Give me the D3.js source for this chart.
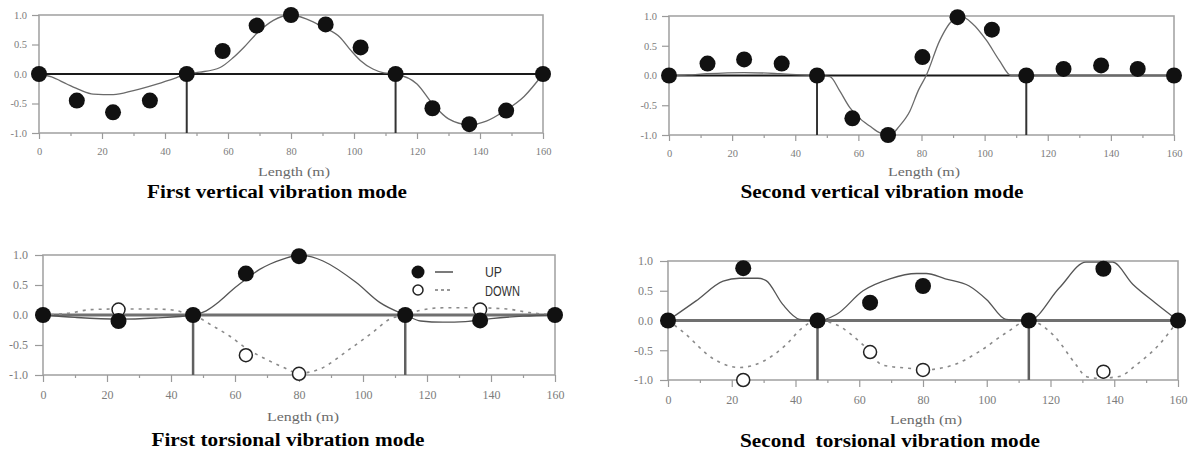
<!DOCTYPE html>
<html>
<head>
<meta charset="utf-8">
<script src="https://cdn.jsdelivr.net/npm/d3@7"></script>
<style>
  body { margin: 0; background: #fff; }
  svg { display: block; }
</style>
</head>
<body>
<svg id="chart" width="1195" height="453"></svg>
<script>
// ---------------- data ----------------
const xTicks = [0, 20, 40, 60, 80, 100, 120, 140, 160]
const xMinorTicks = [10, 30, 50, 70, 90, 110, 130, 150]
const yTicks = [-1, -0.5, 0, 0.5, 1]
const yTickLabels = ['-1.0', '-0.5', '0.0', '0.5', '1.0']
const pierX = [46.9, 113.2]

// first vertical mode
const v1PointX = [0, 12, 23.5, 35.2, 46.9, 58.3, 69.1, 80, 91, 102.1, 113.2, 124.9, 136.6, 148.3, 160]
const v1PointY = [0, -0.45, -0.65, -0.45, 0, 0.39, 0.82, 1.0, 0.84, 0.45, 0, -0.58, -0.85, -0.62, 0]
const v1CurveX = [0, 4, 8.8, 13, 17.2, 23.6, 30, 37.4, 43.7, 46.9, 51, 57.5, 61.7, 65, 69, 74.4, 80, 85, 90, 95.6, 99, 102, 106, 109.5, 113.2, 120, 125, 130, 136.6, 142, 148, 154, 160]
const v1CurveY = [0, -0.05, -0.17, -0.27, -0.34, -0.35, -0.28, -0.17, -0.06, 0, 0.03, 0.11, 0.28, 0.45, 0.68, 0.91, 1.0, 0.93, 0.8, 0.62, 0.4, 0.23, 0.085, 0.02, 0, -0.17, -0.51, -0.76, -0.86, -0.8, -0.62, -0.38, 0]

// second vertical mode
const v2PointX = [0, 12.2, 23.8, 35.7, 46.9, 58.1, 69.4, 80.3, 91.4, 102.3, 113.2, 125, 136.9, 148.5, 160]
const v2PointY = [0, 0.2, 0.27, 0.2, 0, -0.72, -1.0, 0.31, 0.98, 0.77, 0, 0.11, 0.17, 0.11, 0]
const v2CurveX = [0, 6, 12, 23.8, 35, 42, 46.9, 51, 54, 57.3, 60, 63.6, 67, 70, 73, 76.3, 79, 81.5, 85.8, 90, 93, 96, 100.6, 104.7, 108.4, 113.2, 160]
const v2CurveY = [0, 0.01, 0.03, 0.05, 0.03, 0.01, 0, -0.02, -0.25, -0.54, -0.7, -0.85, -0.97, -1.0, -0.85, -0.6, -0.25, 0, 0.59, 0.93, 0.98, 0.88, 0.59, 0.25, 0, 0, 0]

// torsional modes, measured points (UP = filled, DOWN = open)
const tPointX = [0, 23.6, 46.9, 63.4, 80, 113.2, 136.6, 160]
const t1UpY = [0, -0.1, 0, 0.69, 0.98, 0, -0.09, 0]
const t1DownY = [0, 0.09, 0, -0.67, -0.98, 0, 0.09, 0]
const t2UpY = [0, 0.88, 0, 0.3, 0.58, 0, 0.87, 0]
const t2DownY = [0, -1.0, 0, -0.53, -0.83, 0, -0.86, 0]

// first torsional mode, computed lines
const t1UpCurveX = [0, 10, 23.6, 35, 46.9, 51, 55, 59.4, 63.5, 67.7, 71, 75, 80, 84, 87.5, 97.9, 105.2, 113.2, 118, 125, 132, 140, 150, 160]
const t1UpCurveY = [0, -0.04, -0.07, -0.05, 0, 0.07, 0.22, 0.43, 0.6, 0.76, 0.85, 0.93, 1.0, 0.97, 0.9, 0.54, 0.21, 0, -0.1, -0.12, -0.11, -0.06, -0.02, 0]
const t1DownCurveX = [0, 8, 15, 23.6, 35, 41, 44, 46.9, 53, 58.3, 63.4, 69.8, 75, 80, 86.5, 95.8, 103, 108.3, 113.2, 118, 125, 135, 145, 152, 160]
const t1DownCurveY = [0, 0.03, 0.09, 0.1, 0.1, 0.08, 0.04, 0, -0.18, -0.35, -0.55, -0.74, -0.87, -0.97, -0.9, -0.57, -0.29, -0.07, 0, 0.08, 0.12, 0.12, 0.1, 0.04, 0]

// second torsional mode, computed lines
const t2UpCurveX = [0, 8.8, 17.3, 22.4, 28.2, 30.8, 36, 41.3, 46.9, 52.8, 61.2, 69.6, 78, 81, 87, 94.5, 100, 106, 113.2, 122.8, 131.1, 139.5, 145.8, 152.8, 160]
const t2UpCurveY = [0, 0.33, 0.66, 0.71, 0.71, 0.67, 0.27, 0.02, 0, 0.1, 0.5, 0.7, 0.79, 0.79, 0.7, 0.58, 0.35, 0.02, 0, 0.55, 0.98, 0.98, 0.61, 0.3, 0]
const t2DownCurveX = [0, 4.7, 14.1, 22.4, 29.7, 37, 42.2, 46.9, 52.8, 61.2, 67.4, 76.8, 80, 89.4, 97.7, 106, 113.2, 120.8, 128.1, 131.1, 135, 141.6, 146.8, 154, 160]
const t2DownCurveY = [0, -0.19, -0.64, -0.79, -0.69, -0.41, -0.12, 0, -0.07, -0.41, -0.75, -0.81, -0.83, -0.75, -0.52, -0.21, 0, -0.24, -0.75, -0.94, -0.97, -0.94, -0.75, -0.41, 0]

const legendLabels = ['UP', 'DOWN']

// ---------------- panels ----------------
const svg = d3.select('#chart')
svg.append('rect').attr('width', 1195).attr('height', 453).attr('fill', '#fff')

const serif = '"Times New Roman", "Liberation Serif", serif'

const panels = [
  { left: 39, right: 543, top: 15, bottom: 133, big: false,
    points: [{ x: v1PointX, y: v1PointY, filled: true }],
    curves: [{ x: v1CurveX, y: v1CurveY, dashed: false }],
    title: 'First vertical vibration mode', titleX: 277, titleY: 198, titleW: 260,
    labelX: 294, labelY: 176 },
  { left: 669, right: 1174, top: 16, bottom: 135, big: false,
    points: [{ x: v2PointX, y: v2PointY, filled: true }],
    curves: [{ x: v2CurveX, y: v2CurveY, dashed: false }],
    title: 'Second vertical vibration mode', titleX: 882, titleY: 198, titleW: 283,
    labelX: 924, labelY: 176 },
  { left: 43, right: 555, top: 255, bottom: 375, big: true,
    points: [{ x: tPointX, y: t1DownY, filled: false }, { x: tPointX, y: t1UpY, filled: true }],
    curves: [{ x: t1DownCurveX, y: t1DownCurveY, dashed: true }, { x: t1UpCurveX, y: t1UpCurveY, dashed: false }],
    title: 'First torsional vibration mode', titleX: 288, titleY: 446, titleW: 273,
    labelX: 303, labelY: 421, legend: true },
  { left: 668, right: 1178, top: 261, bottom: 380, big: true,
    points: [{ x: tPointX, y: t2DownY, filled: false }, { x: tPointX, y: t2UpY, filled: true }],
    curves: [{ x: t2DownCurveX, y: t2DownCurveY, dashed: true }, { x: t2UpCurveX, y: t2UpCurveY, dashed: false }],
    title: 'Second  torsional vibration mode', titleX: 890, titleY: 447, titleW: 300,
    labelX: 926, labelY: 424 }
]

panels.forEach(drawPanel)

function drawPanel(p) {
  const x = d3.scaleLinear().domain([0, 160]).range([p.left, p.right])
  const y = d3.scaleLinear().domain([-1, 1]).range([p.bottom, p.top])
  const g = svg.append('g')
  const tickFont = p.big ? 12 : 10.5

  // frame
  g.append('rect')
    .attr('x', x(0)).attr('y', y(1))
    .attr('width', x(160) - x(0)).attr('height', y(-1) - y(1))
    .attr('fill', 'none').attr('stroke', '#a5a5a5').attr('stroke-width', 1.6)

  // x axis, major + minor ticks
  const xAxis = d3.axisBottom(x).tickValues(xTicks).tickSize(p.big ? 7 : 6).tickPadding(p.big ? 8 : 9)
    .tickFormat(d3.format('d'))
  const xMinor = d3.axisBottom(x).tickValues(xMinorTicks).tickSize(3).tickFormat('')
  const yAxis = d3.axisLeft(y).tickValues(yTicks).tickSize(p.big ? 8 : 7).tickPadding(p.big ? 7 : 5)
    .tickFormat((d, i) => yTickLabels[i])

  const axes = [
    g.append('g').attr('transform', `translate(0,${y(-1)})`).call(xAxis),
    g.append('g').attr('transform', `translate(0,${y(-1)})`).call(xMinor),
    g.append('g').attr('transform', `translate(${x(0)},0)`).call(yAxis)
  ]
  axes.forEach(a => {
    a.select('.domain').remove()
    a.selectAll('.tick line').attr('stroke', '#9a9a9a').attr('stroke-width', 1.2)
    a.selectAll('.tick text').attr('fill', '#7c7c7c').attr('font-family', serif).attr('font-size', tickFont)
  })

  // zero line
  g.append('line')
    .attr('x1', x(0)).attr('x2', x(160)).attr('y1', y(0)).attr('y2', y(0))
    .attr('stroke', p.big ? '#707070' : '#1a1a1a').attr('stroke-width', p.big ? 3 : 2)

  // piers
  g.selectAll('.pier').data(pierX).join('line')
    .attr('x1', d => x(d)).attr('x2', d => x(d))
    .attr('y1', y(0)).attr('y2', y(-1))
    .attr('stroke', p.big ? '#606060' : '#333').attr('stroke-width', p.big ? 2.5 : 2)

  // computed lines
  const line = d3.line().x(d => x(d[0])).y(d => y(d[1])).curve(d3.curveMonotoneX)
  p.curves.forEach(c => {
    g.append('path')
      .attr('d', line(d3.zip(c.x, c.y)))
      .attr('fill', 'none')
      .attr('stroke', c.dashed ? '#8a8a8a' : (p.big ? '#555' : '#6a6a6a'))
      .attr('stroke-width', c.dashed ? 1.6 : 1.3)
      .attr('stroke-dasharray', c.dashed ? '3,5' : null)
  })

  // measured points
  p.points.forEach(s => {
    g.append('g').selectAll('circle').data(d3.zip(s.x, s.y)).join('circle')
      .attr('cx', d => x(d[0])).attr('cy', d => y(d[1]))
      .attr('r', s.filled ? 8 : 6.5)
      .attr('fill', s.filled ? '#111' : '#fff')
      .attr('stroke', '#222').attr('stroke-width', s.filled ? 0 : 1.5)
  })

  // legend (first torsional only)
  if (p.legend) {
    const lg = g.append('g')
    lg.append('circle').attr('cx', 418).attr('cy', 272).attr('r', 6.5).attr('fill', '#111')
    lg.append('circle').attr('cx', 418).attr('cy', 290).attr('r', 5).attr('fill', '#fff')
      .attr('stroke', '#222').attr('stroke-width', 1.5)
    lg.append('line').attr('x1', 435).attr('x2', 453).attr('y1', 272).attr('y2', 272)
      .attr('stroke', '#333').attr('stroke-width', 1.3)
    lg.append('line').attr('x1', 435).attr('x2', 453).attr('y1', 290).attr('y2', 290)
      .attr('stroke', '#777').attr('stroke-width', 1.3).attr('stroke-dasharray', '3,3')
    lg.selectAll('text').data(legendLabels).join('text')
      .attr('x', 485).attr('y', (d, i) => 277 + i * 18.5)
      .attr('textLength', (d, i) => i ? 35 : 17).attr('lengthAdjust', 'spacingAndGlyphs')
      .attr('font-family', '"Liberation Sans Narrow", "Liberation Sans", sans-serif')
      .attr('font-size', 14).attr('fill', '#333')
      .text(d => d)
  }

  // axis label
  g.append('text')
    .attr('x', p.labelX).attr('y', p.labelY).attr('text-anchor', 'middle')
    .attr('textLength', 72).attr('lengthAdjust', 'spacingAndGlyphs')
    .attr('font-family', serif).attr('font-size', 12.5).attr('fill', '#6a6a6a')
    .text('Length (m)')

  // title
  g.append('text')
    .attr('x', p.titleX).attr('y', p.titleY).attr('text-anchor', 'middle')
    .attr('textLength', p.titleW).attr('lengthAdjust', 'spacingAndGlyphs')
    .attr('font-family', serif).attr('font-size', 18).attr('font-weight', 'bold').attr('fill', '#000')
    .style('white-space', 'pre')
    .text(p.title)
}
</script>
</body>
</html>
